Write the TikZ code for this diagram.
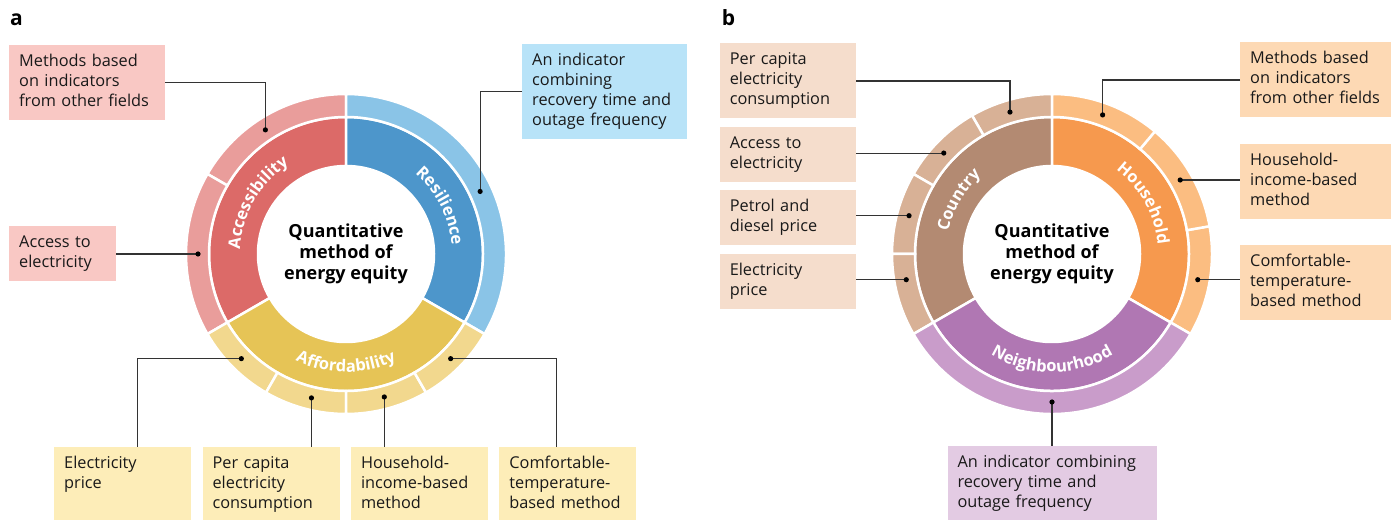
\documentclass[tikz,border=0pt]{standalone}
\usepackage{fontspec}
\setmainfont{Open Sans}
\usepackage{tikz}
\usetikzlibrary{positioning,decorations.text}
\usepackage{xcolor}

\definecolor{accin}{HTML}{DC6A68}
\definecolor{accout}{HTML}{E99D9B}
\definecolor{accbox}{HTML}{F9C8C4}
\definecolor{resin}{HTML}{4D96CB}
\definecolor{resout}{HTML}{8AC4E7}
\definecolor{resbox}{HTML}{B8E3F8}
\definecolor{affin}{HTML}{E6C456}
\definecolor{affout}{HTML}{F2D88E}
\definecolor{affbox}{HTML}{FDEDB8}
\definecolor{couin}{HTML}{B38A72}
\definecolor{couout}{HTML}{D8B196}
\definecolor{coubox}{HTML}{F5DDCC}
\definecolor{houin}{HTML}{F6994E}
\definecolor{houout}{HTML}{FBBD81}
\definecolor{houbox}{HTML}{FDD9B4}
\definecolor{neiin}{HTML}{B077B3}
\definecolor{neiout}{HTML}{C99CCA}
\definecolor{neibox}{HTML}{E3CBE3}

\newcommand{\ringfont}{\fontsize{16.5}{18}\selectfont\bfseries\color{white}}
% #1 centre, #2 colour, #3/#4 angles, #5/#6 radii
\newcommand{\ringpart}[6]{%
  \filldraw[fill=#2, draw=white, line width=2.5pt]
    ([shift={(#3:#6pt)}]#1) arc[start angle=#3, end angle=#4, radius=#6pt]
    -- ([shift={(#4:#5pt)}]#1) arc[start angle=#4, end angle=#3, radius=#5pt] -- cycle;}
\newcommand{\ringlabel}[5]{%
  \path[decorate, decoration={text along path, text align=center, text={|\ringfont|#5}}]
    ([shift={(#2:#4pt)}]#1) arc[start angle=#2, end angle=#3, radius=#4pt];}

\begin{document}
\begin{tikzpicture}[x=1pt, y=1pt, node distance=11pt, font=\fontsize{16.3}{20}\selectfont]
\tikzstyle{box} = [align=left, inner xsep=10pt, inner ysep=7.5pt, text=black!90, execute at begin node=\strut, execute at end node=\strut]
\tikzstyle{link} = [line width=1.1pt, draw=black!80]
\tikzstyle{hub} = [align=center, font=\fontsize{18}{21}\selectfont\bfseries]
\tikzstyle{panel} = [anchor=base west, inner sep=0pt, font=\fontsize{21}{24}\selectfont\bfseries]

\useasboundingbox (0,0) rectangle (1391,519);
\coordinate (ca) at (346,265);
\coordinate (cb) at (1052,265);

% panel a
\ringpart{ca}{accin}{90}{210}{88}{137}
\ringpart{ca}{resin}{-30}{90}{88}{137}
\ringpart{ca}{affin}{210}{330}{88}{137}
\ringpart{ca}{accout}{90}{150}{137}{160}
\ringpart{ca}{accout}{150}{210}{137}{160}
\ringpart{ca}{resout}{-30}{90}{137}{160}
\foreach \a in {210,240,270,300}
  \ringpart{ca}{affout}{\a}{\a+30}{137}{160};

\ringlabel{ca}{200}{100}{106}{Accessibility}
\ringlabel{ca}{77}{-23}{106}{Resilience}
\ringlabel{ca}{220}{320}{118}{Affordability}
\node[hub] (huba) at (ca) {Quantitative\\method of\\energy equity};

\coordinate (da1) at ([shift={(123:148pt)}]ca);
\coordinate (da2) at ([shift={(180:148pt)}]ca);
\coordinate (dr) at ([shift={(25:148pt)}]ca);
\coordinate (df1) at ([shift={(225:148pt)}]ca);
\coordinate (df2) at ([shift={(256.5:148pt)}]ca);
\coordinate (df3) at ([shift={(285:148pt)}]ca);
\coordinate (df4) at ([shift={(315:148pt)}]ca);

\node[box, fill=accbox, text width=136pt, anchor=north west] (metha) at (9,474) {Methods based\\on indicators\\from other fields};
\node[box, fill=accbox, text width=87pt, anchor=west] (acca) at (9,265) {Access to\\electricity};
\node[box, fill=resbox, text width=145pt, anchor=north west] (resa) at (522,475) {An indicator\\combining\\recovery time and\\outage frequency};
\node[box, fill=affbox, text width=117pt, anchor=north west] (epricea) at (54,72) {Electricity\\price\\};
\node[box, fill=affbox, text width=117pt, right=of epricea] (pcapa) {Per capita\\electricity\\consumption};
\node[box, fill=affbox, text width=117pt, right=of pcapa] (hhia) {Household-\\income-based\\method};
\node[box, fill=affbox, text width=117pt, right=of hhia] (comfa) {Comfortable-\\temperature-\\based method};

\draw[link] (metha.east) -| (da1);
\draw[link] (acca.east) -- (da2);
\draw[link] (resa.west) -| (dr);
\draw[link] (df1) -| ([xshift=15pt]epricea.north);
\draw[link] (df2) -- (df2 |- pcapa.north);
\draw[link] (df3) -- (df3 |- hhia.north);
\draw[link] (df4) -| ([xshift=-11.5pt]comfa.north);
\foreach \d in {da1,da2,dr,df1,df2,df3,df4}
  \fill (\d) circle[radius=2.6pt];

% panel b
\ringpart{cb}{couin}{90}{210}{88}{137}
\ringpart{cb}{houin}{-30}{90}{88}{137}
\ringpart{cb}{neiin}{210}{330}{88}{137}
\foreach \a in {90,120,150,180}
  \ringpart{cb}{couout}{\a}{\a+30}{137}{160};
\foreach \a in {-30,10,50}
  \ringpart{cb}{houout}{\a}{\a+40}{137}{160};
\ringpart{cb}{neiout}{210}{330}{137}{160}

\ringlabel{cb}{200}{100}{106}{Country}
\ringlabel{cb}{79}{-21}{106}{Household}
\ringlabel{cb}{220}{320}{118}{Neighbourhood}
\node[hub] (hubb) at (cb) {Quantitative\\method of\\energy equity};

\coordinate (db1) at ([shift={(106.5:148pt)}]cb);
\coordinate (db2) at ([shift={(137:148pt)}]cb);
\coordinate (db3) at ([shift={(165:148pt)}]cb);
\coordinate (db4) at ([shift={(190:148pt)}]cb);
\coordinate (dh1) at ([shift={(70:148pt)}]cb);
\coordinate (dh2) at ([shift={(30:148pt)}]cb);
\coordinate (dh3) at ([shift={(-10:148pt)}]cb);
\coordinate (dn) at ([shift={(270:148pt)}]cb);

\node[box, fill=coubox, text width=116pt, anchor=east] (pcapb) at (856,438) {Per capita\\electricity\\consumption};
\node[box, fill=coubox, text width=116pt, below=8pt of pcapb] (accb) {Access to\\electricity};
\node[box, fill=coubox, text width=116pt, below=8pt of accb] (petrolb) {Petrol and\\diesel price};
\node[box, fill=coubox, text width=116pt, below=8pt of petrolb] (epriceb) {Electricity\\price};
\node[box, fill=houbox, text width=145pt, anchor=west] (methb) at (1240,439) {Methods based\\on indicators\\from other fields};
\node[box, fill=houbox, text width=145pt, below=26pt of methb] (incb) {Household-\\income-based\\method};
\node[box, fill=houbox, text width=145pt, below=26pt of incb] (comfb) {Comfortable-\\temperature-\\based method};
\node[box, fill=neibox, text width=189pt, anchor=north] (indb) at (1052,73) {An indicator combining\\recovery time and\\outage frequency};

\draw[link] (pcapb.east) -| (db1);
\draw[link] (db2) -- (db2 -| accb.east);
\draw[link] (db3) -- (db3 -| petrolb.east);
\draw[link] (db4) -- (db4 -| epriceb.east);
\draw[link] (methb.west) -| (dh1);
\draw[link] (dh2) -- (dh2 -| incb.west);
\draw[link] (dh3) -- (dh3 -| comfb.west);
\draw[link] (dn) -- (indb.north);
\foreach \d in {db1,db2,db3,db4,dh1,dh2,dh3,dn}
  \fill (\d) circle[radius=2.6pt];

\node[panel] (pa) at (10,493) {a};
\node[panel] (pb) at (721.7,493) {b};
\end{tikzpicture}
\end{document}
